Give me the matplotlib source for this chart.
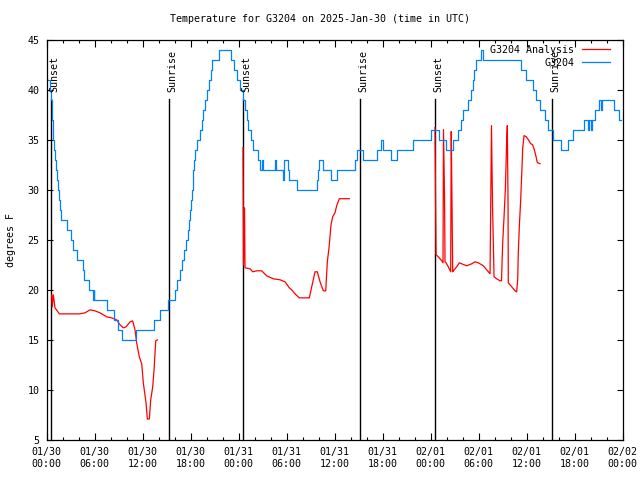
import datetime as dt
import matplotlib
matplotlib.use("Agg")
import matplotlib.pyplot as plt
from matplotlib.lines import Line2D

plt.rcParams['font.family'] = ['DejaVu Sans Mono']

# hours since 2025-01-30 00:00 UTC
obs_hours = [0.19, 0.44, 0.56, 0.65, 0.75, 0.81, 0.94, 1.06, 1.19, 1.31, 1.44, 1.56, 1.69, 1.81,
             2.52, 3.02, 3.27, 3.85, 4.52, 4.69, 5.35, 5.85, 5.90, 5.97, 7.52, 8.44, 8.97, 9.40,
             11.19, 13.44, 14.19, 15.22, 16.06, 16.27, 16.69, 16.90, 17.19, 17.40, 17.65, 17.81,
             17.94, 18.06, 18.15, 18.25, 18.35, 18.44, 18.56, 18.77, 19.19, 19.40, 19.60, 19.81,
             20.12, 20.31, 20.50, 20.65, 21.56, 23.00, 23.40, 23.81, 24.19, 24.60, 24.81, 25.00,
             25.22, 25.52, 25.85, 26.47, 26.69, 26.88, 27.10, 28.56, 28.69, 28.77, 29.52, 29.65,
             29.73, 30.15, 30.35, 31.27, 33.85, 33.97, 34.10, 34.60, 35.52, 36.35, 38.60, 38.81,
             39.52, 41.35, 41.77, 42.02, 43.10, 43.85, 45.81, 48.02, 49.10, 49.94, 50.85, 51.47,
             51.77, 52.10, 52.72, 53.02, 53.27, 53.44, 53.69, 54.31, 54.52, 59.31, 59.94, 60.77,
             61.19, 61.69, 62.31, 62.72, 63.27, 64.27, 65.22, 65.77, 67.22, 67.72, 67.85, 68.02,
             68.19, 68.56, 69.06, 69.27, 69.44, 70.97, 71.52, 71.81]
obs_temp = [41, 40, 39, 37, 36, 35, 34, 33, 32, 31, 30, 29, 28, 27,
            26, 25, 24, 23, 22, 21, 20, 19, 20, 19, 18, 17, 16, 15,
            16, 17, 18, 19, 20, 21, 22, 23, 24, 25, 26, 27,
            28, 29, 30, 31, 32, 33, 34, 35, 36, 37, 38, 39,
            40, 41, 42, 43, 44, 43, 42, 41, 40, 39, 38, 37,
            36, 35, 34, 33, 32, 33, 32, 33, 32, 32, 31, 32,
            33, 32, 31, 30, 31, 32, 33, 32, 31, 32, 33, 34,
            33, 34, 35, 34, 33, 34, 35, 36, 35, 34, 35, 36,
            37, 38, 39, 40, 41, 42, 43, 44, 43, 42, 41, 40,
            39, 38, 37, 36, 35, 34, 35, 36, 37, 36, 37, 36,
            37, 38, 39, 38, 39, 38, 37, 37]

ana1_hours = [0.65, 0.71, 0.85, 1.06, 1.60, 4.10, 4.81, 5.44, 6.06, 6.69, 7.52, 8.15, 8.77, 9.19,
              9.60, 9.94, 10.44, 10.77, 11.06, 11.27, 11.60, 11.90, 12.10, 12.44, 12.60, 12.85,
              13.02, 13.27, 13.44, 13.65, 13.85]
ana1_temp = [19.5, 18.3, 19.5, 18.2, 17.6, 17.6, 17.7, 18.0, 17.9, 17.7, 17.3, 17.2, 17.0, 16.5,
             16.2, 16.3, 16.8, 16.9, 16.0, 14.7, 13.3, 12.6, 10.7, 8.7, 7.1, 7.1,
             9.0, 10.3, 12.0, 14.9, 15.0]

ana2_hours = [24.56, 24.62, 24.75, 24.81, 25.44, 25.77, 26.27, 26.90, 27.52, 28.35, 29.19, 29.81,
              30.35, 30.65, 31.06, 31.60, 32.85, 33.15, 33.56, 33.85, 34.19, 34.60, 34.90, 35.10,
              35.31, 35.56, 35.77, 36.06, 36.27, 36.60, 37.85]
ana2_temp = [34.2, 22.5, 28.2, 22.2, 22.1, 21.8, 21.9, 21.9, 21.4, 21.1, 21.0, 20.8,
             20.2, 20.0, 19.6, 19.2, 19.2, 20.3, 21.8, 21.8, 20.8, 19.9, 19.9, 22.8,
             24.2, 26.5, 27.3, 27.7, 28.4, 29.1, 29.1]

ana3_hours = [48.56, 48.62, 48.69, 48.97, 49.40, 49.56, 49.62, 49.75, 49.81, 49.94, 50.22, 50.52,
              50.59, 50.69, 50.77, 50.85, 51.27, 51.60, 51.90, 52.52, 53.15, 53.56, 53.97, 54.60,
              55.02, 55.44, 55.62, 55.75, 55.94, 56.27, 56.69, 56.87, 57.02, 57.19, 57.35, 57.44,
              57.52, 57.60, 57.69, 57.72, 58.15, 58.56, 58.77, 58.90, 58.97, 59.10, 59.27, 59.40,
              59.52, 59.69, 59.94, 60.22, 60.52, 60.75, 60.97, 61.19, 61.35, 61.69]
ana3_temp = [36.2, 29.8, 23.5, 23.3, 22.9, 22.7, 36.0, 29.3, 22.8, 22.7, 22.3, 21.8,
             35.8, 28.3, 21.8, 21.9, 22.3, 22.7, 22.6, 22.4, 22.6, 22.8, 22.7, 22.4,
             22.0, 21.6, 36.4, 28.4, 21.3, 21.1, 20.9, 20.9, 24.7, 27.3, 30.0, 32.5,
             35.0, 36.4, 28.5, 20.7, 20.3, 19.9, 19.8, 21.1, 23.7, 26.3, 29.0, 31.5,
             34.1, 35.4, 35.3, 35.0, 34.6, 34.5, 34.0, 33.3, 32.7, 32.6]

sun_hours = [0.56, 15.33, 24.58, 39.22, 48.6, 63.22]
sun_labels = ['Sunset', 'Sunrise', 'Sunset', 'Sunrise', 'Sunset', 'Sunrise']

start = dt.datetime(2025, 1, 30)
red = '#ff0000'
blue = '#0080ff'

fig = plt.figure(figsize=(6.4, 4.8), dpi=100)
ax = fig.add_axes([0.0727, 0.0833, 0.9, 0.8344])

for h, lab in zip(sun_hours, sun_labels):
    ax.plot([h, h], [5, 39.1], color='black', lw=1.0)
    ax.text(h + 0.4, 39.8, lab, rotation=90, ha='center', va='bottom', fontsize=7.2)

ax.plot(ana1_hours, ana1_temp, color=red, lw=0.9)
ax.plot(ana2_hours, ana2_temp, color=red, lw=0.9)
ax.plot(ana3_hours, ana3_temp, color=red, lw=0.9)
ax.step(obs_hours, obs_temp, where='post', color=blue, lw=0.9)

ax.set_xlim(0, 72)
ax.set_ylim(5, 45)
xt = list(range(0, 73, 6))
ax.set_xticks(xt)
ax.set_xticklabels([(start + dt.timedelta(hours=h)).strftime('%m/%d\n%H:%M') for h in xt])
ax.set_xticks(list(range(0, 73, 2)), minor=True)
ax.set_yticks(list(range(5, 46, 5)))
ax.tick_params(axis='both', which='both', direction='in', top=True, right=True,
               labelsize=7.2, width=0.8)
ax.tick_params(axis='x', which='major', length=5, pad=5)
ax.tick_params(axis='x', which='minor', length=2.5)
ax.tick_params(axis='y', which='major', length=4, pad=5)
for s in ax.spines.values():
    s.set_linewidth(0.9)

ax.set_ylabel('degrees F', fontsize=7.2, labelpad=8)
fig.suptitle('Temperature for G3204 on 2025-Jan-30 (time in UTC)', fontsize=7.2, y=0.97)

# legend, right-aligned like gnuplot
ax.text(0.916, 0.975, 'G3204 Analysis', transform=ax.transAxes, ha='right', va='center', fontsize=7.2)
ax.text(0.916, 0.9425, 'G3204', transform=ax.transAxes, ha='right', va='center', fontsize=7.2)
ax.add_line(Line2D([0.93, 0.978], [0.977, 0.977], transform=ax.transAxes, color=red, lw=0.9))
ax.add_line(Line2D([0.93, 0.978], [0.944, 0.944], transform=ax.transAxes, color=blue, lw=0.9))

fig.savefig('out.png', dpi=100)
